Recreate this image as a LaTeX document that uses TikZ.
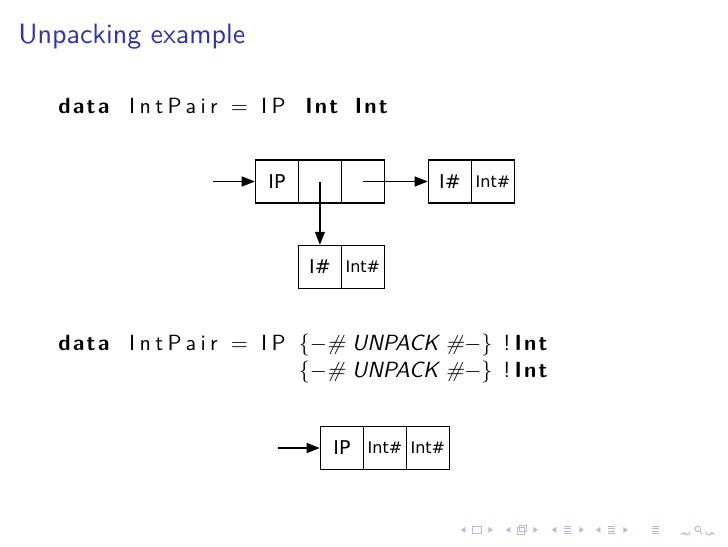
\documentclass[tikz,border=0pt]{standalone}
\usepackage{fontspec}
\setsansfont{lmsans10-regular.otf}[BoldFont=lmsans10-bold.otf, ItalicFont=lmsans10-oblique.otf]
\newfontfamily\boxfont{DejaVu Sans}
\usepackage{tikz}
\usetikzlibrary{arrows.meta}

\definecolor{titleblue}{RGB}{51,51,178}
\definecolor{navgray}{RGB}{185,185,222}

\newcommand{\hsp}{\hspace{0.6em}}
\newcommand{\hskw}[1]{{\bfseries\addfontfeatures{LetterSpace=10}#1}}
\newcommand{\hsid}[1]{{\addfontfeatures{LetterSpace=20}#1}}
\newcommand{\hslhs}{\hskw{data}\hspace{0.9em}\hsid{IntPair}\hspace{0.6em}$=$\hspace{0.6em}\hsid{IP}}
\newcommand{\unpack}{$\{-$\textit{\#\hspace{0.32em}UNPACK\hspace{0.32em}\#}$-\}$}

\begin{document}
\begin{tikzpicture}[
    txt/.style={inner sep=0pt, anchor=base west},
    code/.style={txt, font=\fontsize{11}{13.5}\selectfont\sffamily},
    cell/.style={draw, line width=0.8pt, minimum width=0.755cm, minimum height=0.755cm, inner sep=0pt, font=\boxfont\fontsize{9.5}{10}\selectfont},
    small/.style={font=\boxfont\fontsize{8}{9}\selectfont},
    ptr/.style={-{Triangle[length=6.5pt,width=5pt]}, line width=0.7pt}
]
\useasboundingbox (0,0) rectangle (12.8,-9.6);

% Frame title
\node[txt, font=\fontsize{14}{17}\selectfont\sffamily, text=titleblue] (title) at (0.316,-0.756) {Unpacking example};

% 1. Boxed fields
\node[code] (codeone) at (1.020,-1.987) {\hslhs\hspace{0.9em}\hskw{Int}\hspace{0.75em}\hskw{Int}};

\node[cell] (ipcon) at (4.870,-3.191) {IP};
\node[cell] (ipfst) at (5.625,-3.191) {};
\node[cell] (ipsnd) at (6.380,-3.191) {};
\node[cell] (rtag) at (7.912,-3.191) {I\#};
\node[cell, small] (rval) at (8.667,-3.191) {Int\#};
\node[cell] (dtag) at (5.625,-4.695) {I\#};
\node[cell, small] (dval) at (6.380,-4.695) {Int\#};

\coordinate (entry) at (3.745,-3.191);
\draw[ptr] (entry) -- (ipcon.west);
\draw[ptr] (ipfst.center) -- (dtag.north);
\draw[ptr] (ipsnd.center) -- (rtag.west);

% 2. Unpacked fields
\node[code] (codetwo) at (1.020,-6.171) {\begin{tabular}[t]{@{}l@{\hsp}l@{}}
    \hslhs&
    \unpack\hspace{0.5em}!\hspace{0.2em}\hskw{Int}\\
    & \unpack\hspace{0.5em}!\hspace{0.2em}\hskw{Int}
\end{tabular}};

\node[cell] (uip) at (6.013,-7.877) {IP};
\node[cell, small] (uone) at (6.768,-7.877) {Int\#};
\node[cell, small] (utwo) at (7.523,-7.877) {Int\#};

\coordinate (uentry) at (4.888,-7.877);
\draw[ptr] (uentry) -- (uip.west);

% Navigation symbols
\begin{scope}[x=0.017582cm, y=-0.017582cm, navgray, line width=0.5pt]
    \foreach \cx in {477,522,568,612} {
        \fill (\cx-16,530) -- (\cx-11.5,527) -- (\cx-11.5,533) -- cycle;
        \fill (\cx+16,530) -- (\cx+11.5,527) -- (\cx+11.5,533) -- cycle;
    }
    \draw (472.5,526.5) rectangle (481.5,533.5);
    \draw (517.5,528) rectangle (524.5,534.5);
    \draw (520,525.5) rectangle (527,532);
    \foreach \cx in {568,612,656} {
        \foreach \dy in {-3.5,-1.2,1.2,3.5}
            \draw (\cx-3.5,530+\dy) -- (\cx+3.5,530+\dy);
    }
    \draw[-{To[length=1.5pt]}] (690,532) arc (0:180:3);
    \draw (698,529) circle (2.8);
    \draw (700,531.5) -- (702.5,534.5);
    \draw[-{To[length=1.5pt]}] (706,532) arc (180:0:3);
\end{scope}

\end{tikzpicture}
\end{document}
